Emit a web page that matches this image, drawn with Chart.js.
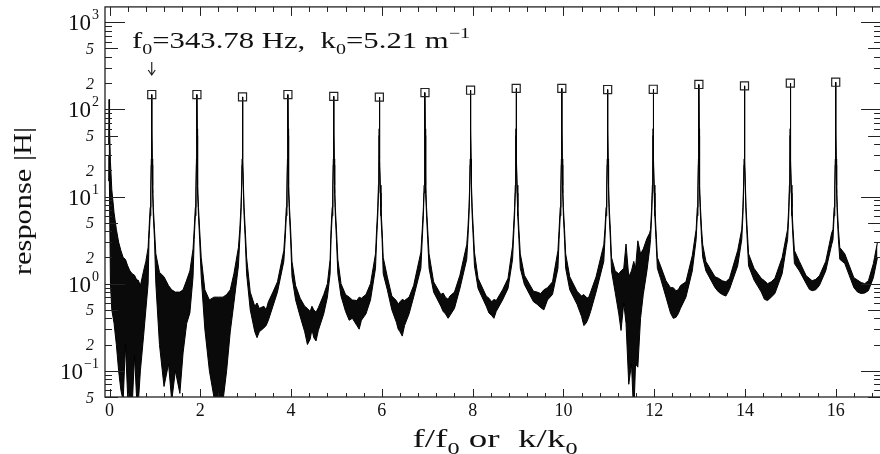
<!DOCTYPE html>
<html>
<head>
<meta charset="utf-8">
<script src="https://cdn.jsdelivr.net/npm/chart.js@4.4.1/dist/chart.umd.min.js"></script>
<style>
html, body { margin: 0; padding: 0; background: #fff; overflow: hidden; width: 880px; height: 454px; }
#wrap { width: 888px; height: 454px; }
</style>
</head>
<body>
<div id="wrap"><canvas id="respChart" width="888" height="454"></canvas></div>
<script>
// noisy band between peaks: x = f/f0, upper and lower edge of the trace
const bandX = [
    -0.02, -0.01, 0.0, 0.02, 0.05, 0.1, 0.15, 0.2, 0.25, 0.3, 0.35, 0.4, 0.45, 0.5, 0.55, 0.6, 0.63, 0.68, 0.75, 0.8, 0.85,
    1.02, 1.1, 1.2, 1.3, 1.37, 1.45, 1.55, 1.62, 1.7, 1.77, 1.84,
    2.02, 2.1, 2.2, 2.3, 2.4, 2.5, 2.58, 2.66, 2.74, 2.84,
    3.02, 3.1, 3.2, 3.25, 3.3, 3.4, 3.45, 3.5, 3.6, 3.7, 3.84,
    4.02, 4.1, 4.2, 4.3, 4.36, 4.42, 4.46, 4.5, 4.55, 4.6, 4.72, 4.8, 4.86,
    5.03, 5.1, 5.2, 5.28, 5.35, 5.45, 5.5, 5.55, 5.65, 5.75, 5.86,
    6.03, 6.12, 6.22, 6.32, 6.36, 6.4, 6.45, 6.5, 6.6, 6.7, 6.86,
    7.04, 7.14, 7.3, 7.35, 7.4, 7.46, 7.5, 7.6, 7.72, 7.87,
    8.04, 8.12, 8.3, 8.36, 8.42, 8.47, 8.52, 8.66, 8.78, 8.88,
    9.05, 9.14, 9.34, 9.42, 9.5, 9.57, 9.65, 9.76, 9.88,
    10.05, 10.14, 10.3, 10.4, 10.45, 10.5, 10.55, 10.6, 10.72, 10.89,
    11.06, 11.14, 11.22, 11.27, 11.33, 11.38, 11.44, 11.5, 11.55, 11.59, 11.64, 11.7, 11.76, 11.84, 11.9,
    12.07, 12.14, 12.26, 12.36, 12.42, 12.48, 12.53, 12.58, 12.7, 12.84,
    13.07, 13.14, 13.34, 13.42, 13.5, 13.58, 13.66, 13.84,
    14.08, 14.2, 14.36, 14.43, 14.5, 14.58, 14.66, 14.82, 14.91,
    15.09, 15.2, 15.35, 15.42, 15.48, 15.56, 15.64, 15.78, 15.91,
    16.09, 16.2, 16.4, 16.48, 16.56, 16.64, 16.72, 16.83, 16.92
];
const bandUpper = [
    40, 130, 60, 25, 12, 6.5, 4.2, 3.0, 2.4, 2.0, 1.9, 1.6, 1.4, 1.3, 1.25, 1.1, 1.1, 0.95, 1.4, 1.8, 2.6,
    2.2, 1.35, 1.2, 0.95, 0.85, 0.8, 0.8, 0.85, 1.1, 1.4, 2.5,
    2.0, 0.85, 0.65, 0.7, 0.7, 0.7, 0.75, 0.85, 1.3, 2.6,
    2.0, 0.8, 0.55, 0.6, 0.52, 0.55, 0.5, 0.62, 0.8, 1.05, 2.4,
    1.8, 0.95, 0.68, 0.55, 0.52, 0.48, 0.55, 0.5, 0.47, 0.53, 0.75, 1.0, 1.9,
    1.9, 1.0, 0.75, 0.7, 0.65, 0.64, 0.7, 0.68, 0.75, 1.0, 2.2,
    2.0, 1.2, 0.72, 0.64, 0.58, 0.62, 0.66, 0.64, 0.7, 0.95, 2.3,
    2.2, 1.05, 0.75, 0.78, 0.7, 0.66, 0.72, 0.8, 1.25, 2.8,
    2.3, 1.15, 0.72, 0.68, 0.62, 0.66, 0.64, 0.85, 1.15, 2.7,
    2.2, 1.25, 0.82, 0.8, 0.77, 0.85, 0.9, 1.05, 2.4,
    2.2, 1.2, 0.82, 0.72, 0.75, 0.7, 0.68, 0.8, 1.2, 2.8,
    2.0, 1.4, 1.3, 1.4, 1.5, 2.85, 1.2, 1.4, 1.8, 1.5, 3.1, 2.2, 2.5, 3.3, 3.8,
    2.0, 1.6, 1.08, 0.9, 0.9, 0.83, 0.85, 0.95, 1.05, 2.1,
    2.8, 1.8, 1.2, 1.15, 1.08, 1.05, 1.15, 2.4,
    2.2, 1.5, 1.15, 1.08, 1.0, 1.05, 1.15, 2.0, 3.5,
    2.4, 1.8, 1.23, 1.15, 1.08, 1.12, 1.23, 1.8, 3.8,
    2.6, 2.2, 1.17, 1.1, 1.03, 1.0, 1.08, 1.7, 3.0
];
const bandLower = [
    15, 30, 10, 1.0, 0.5, 0.35, 0.2, 0.1, 0.06, 0.045, 0.2, 0.05, 0.04, 0.04, 0.15, 0.045, 0.04, 0.1, 0.25, 0.5, 1.0,
    1.0, 0.2, 0.066, 0.12, 0.045, 0.1, 0.055, 0.16, 0.35, 0.46, 1.2,
    1.2, 0.3, 0.1, 0.05, 0.04, 0.045, 0.1, 0.28, 0.6, 1.6,
    1.3, 0.5, 0.28, 0.24, 0.28, 0.31, 0.33, 0.38, 0.55, 0.8, 1.8,
    1.2, 0.65, 0.42, 0.28, 0.2, 0.23, 0.3, 0.24, 0.22, 0.29, 0.45, 0.7, 1.3,
    1.3, 0.72, 0.48, 0.38, 0.4, 0.33, 0.3, 0.38, 0.45, 0.65, 1.5,
    1.3, 0.85, 0.5, 0.36, 0.3, 0.28, 0.25, 0.33, 0.45, 0.7, 1.5,
    1.5, 0.8, 0.55, 0.48, 0.45, 0.4, 0.43, 0.52, 0.88, 1.9,
    1.6, 0.88, 0.55, 0.46, 0.43, 0.4, 0.48, 0.65, 0.88, 1.9,
    1.5, 0.98, 0.62, 0.58, 0.53, 0.5, 0.65, 0.75, 1.5,
    1.5, 0.85, 0.58, 0.42, 0.33, 0.35, 0.4, 0.48, 0.8, 1.8,
    1.4, 0.8, 0.45, 0.29, 0.6, 0.35, 0.07, 0.12, 0.03, 0.12, 0.11, 0.4, 0.75, 1.4, 2.5,
    1.5, 1.15, 0.7, 0.46, 0.4, 0.41, 0.45, 0.52, 0.7, 1.4,
    2.0, 1.4, 0.9, 0.8, 0.75, 0.72, 0.86, 1.6,
    1.6, 1.1, 0.8, 0.66, 0.64, 0.7, 0.77, 1.3, 2.6,
    1.7, 1.4, 1.0, 0.86, 0.83, 0.85, 0.95, 1.4, 2.8,
    1.9, 1.7, 0.9, 0.8, 0.77, 0.78, 0.83, 1.17, 2.0
];

// resonance peaks (square markers)
const peakX = [0.93, 1.925, 2.93, 3.93, 4.94, 5.945, 6.95, 7.955, 8.96, 9.965, 10.975, 11.98, 12.985, 13.99, 15.0, 16.0];
const peakY = [148, 148, 139, 148, 141, 138, 156, 166, 174, 174, 169, 170, 193, 186, 200, 205];

// width of a peak: offset from the peak and the trace edges there
const flankDx = [-0.06, -0.035, -0.02, -0.01, -0.004, 0.004, 0.01, 0.02, 0.035, 0.06];
const flankUpper = [4.2, 7.5, 13.5, 27, 60, 60, 27, 13.5, 7.5, 4.2];
const flankLower = [3.2, 6, 11, 23, 50, 50, 23, 11, 6, 3.2];

const xTickValues = [0, 2, 4, 6, 8, 10, 12, 14, 16];
const xTickLabels = ['0', '2', '4', '6', '8', '10', '12', '14', '16'];
const yDecades = [-1, 0, 1, 2, 3];
const yDecadeLabels = ['\u22121', '0', '1', '2', '3'];

const upperPts = [];
const lowerPts = [];
bandX.forEach((x, i) => {
    upperPts.push({x: x, y: bandUpper[i]});
    lowerPts.push({x: x, y: bandLower[i]});
});
peakX.forEach((p, k) => {
    upperPts.push({x: p, y: peakY[k]});
    lowerPts.push({x: p, y: peakY[k]});
    flankDx.forEach((d, j) => {
        upperPts.push({x: p + d, y: flankUpper[j]});
        lowerPts.push({x: p + d, y: flankLower[j]});
    });
});
upperPts.sort((a, b) => a.x - b.x);
lowerPts.sort((a, b) => a.x - b.x);

const SERIF = '"Liberation Serif", "DejaVu Serif", serif';

// draw text with sub/superscript parts, optionally stretched to a width
function richText(ctx, parts, x, y, size, width, align) {
    const fontOf = mode => (mode ? Math.round(size * 0.66) : size) + 'px ' + SERIF;
    let w = 0;
    parts.forEach(([t, m]) => { ctx.font = fontOf(m); w += ctx.measureText(t).width; });
    const s = width ? width / w : 1;
    ctx.save();
    ctx.translate(x, y);
    ctx.scale(s, 1);
    let cx = align === 'center' ? -w / 2 : align === 'right' ? -w : 0;
    ctx.textAlign = 'left';
    ctx.textBaseline = 'alphabetic';
    parts.forEach(([t, m]) => {
        ctx.font = fontOf(m);
        const dy = m === 1 ? size * 0.28 : m === 2 ? -size * 0.42 : 0;
        ctx.fillText(t, cx, dy);
        cx += ctx.measureText(t).width;
    });
    ctx.restore();
}

const axesPlugin = {
    id: 'axesPlugin',
    afterDraw(chart) {
        const {ctx, chartArea: a} = chart;
        const xs = chart.scales.x;
        const ys = chart.scales.y;
        ctx.save();
        ctx.strokeStyle = '#222';
        ctx.fillStyle = '#111';
        ctx.lineWidth = 1.3;
        ctx.strokeRect(a.left, a.top, a.right - a.left, a.bottom - a.top);

        // x ticks, bottom and top
        ctx.lineWidth = 1;
        ctx.beginPath();
        for (let v = 0; v <= 17; v += 0.4) {
            const px = Math.round(xs.getPixelForValue(v)) + 0.5;
            const major = Math.abs(v / 2 - Math.round(v / 2)) < 0.01;
            const len = major ? 8 : 4;
            ctx.moveTo(px, a.bottom); ctx.lineTo(px, a.bottom - len);
            ctx.moveTo(px, a.top); ctx.lineTo(px, a.top + len + 1);
        }
        // y ticks, left and right
        yDecades.concat([-2]).forEach(d => {
            for (let m = 1; m <= 9; m++) {
                const v = m * Math.pow(10, d);
                if (v < ys.min - 1e-9 || v > ys.max) continue;
                const py = Math.round(ys.getPixelForValue(v)) + 0.5;
                const len = m === 1 ? 20 : m === 5 ? 13 : 7;
                ctx.moveTo(a.left, py); ctx.lineTo(a.left + len, py);
                ctx.moveTo(a.right, py); ctx.lineTo(a.right - len, py);
            }
        });
        ctx.stroke();

        // x tick labels
        xTickValues.forEach((v, i) => {
            richText(ctx, [[xTickLabels[i], 0]], xs.getPixelForValue(v), 416, 18, 0, 'center');
        });
        // y decade labels 10^n
        yDecades.forEach((d, i) => {
            const py = ys.getPixelForValue(Math.pow(10, d));
            ctx.font = '14px ' + SERIF;
            const ew = ctx.measureText(yDecadeLabels[i]).width;
            ctx.fillText(yDecadeLabels[i], 99 - ew, py - 3);
            ctx.font = '23px ' + SERIF;
            const bw = ctx.measureText('10').width;
            ctx.fillText('10', 98 - ew - bw, py + 8);
        });
        // minor labels 2 and 5
        ctx.font = 'italic 16px ' + SERIF;
        ctx.textAlign = 'right';
        [-2, -1, 0, 1, 2].forEach(d => {
            [2, 5].forEach(m => {
                const v = m * Math.pow(10, d);
                if (v < ys.min - 1e-9 || v > ys.max) return;
                ctx.fillText(String(m), 94, ys.getPixelForValue(v) + 5.5);
            });
        });
        ctx.textAlign = 'left';

        // axis titles
        richText(ctx, [['f/f', 0], ['0', 1], [' or  k/k', 0], ['0', 1]], 495, 447, 26, 165, 'center');
        ctx.save();
        ctx.translate(31, 201);
        ctx.rotate(-Math.PI / 2);
        richText(ctx, [['response |H|', 0]], 0, 0, 25, 148, 'center');
        ctx.restore();

        // annotation and arrow
        richText(ctx, [['f', 0], ['0', 1], ['=343.78 Hz,  k', 0], ['0', 1], ['=5.21 m', 0], ['\u22121', 2]],
            132, 48, 23, 338, 'left');
        const ax = xs.getPixelForValue(peakX[0]);
        ctx.lineWidth = 1.2;
        ctx.beginPath();
        ctx.moveTo(ax, 62); ctx.lineTo(ax, 75);
        ctx.moveTo(ax - 3.5, 70); ctx.lineTo(ax, 75); ctx.lineTo(ax + 3.5, 70);
        ctx.stroke();
        ctx.restore();
    }
};

const ctx = document.getElementById('respChart').getContext('2d');
const respChart = new Chart(ctx, {
    type: 'line',
    data: {
        datasets: [
            {
                label: 'peaks',
                data: peakX.map((x, i) => ({x: x, y: peakY[i]})),
                showLine: false,
                pointStyle: 'rect',
                pointRadius: 5.7,
                pointBorderWidth: 1.2,
                pointBorderColor: '#222',
                pointBackgroundColor: 'rgba(0,0,0,0)'
            },
            {
                label: 'upper',
                data: upperPts,
                borderColor: '#000',
                borderWidth: 1,
                pointRadius: 0,
                tension: 0,
                fill: false
            },
            {
                label: 'lower',
                data: lowerPts,
                borderColor: '#000',
                borderWidth: 1,
                pointRadius: 0,
                tension: 0,
                fill: '-1',
                backgroundColor: '#0a0a0a'
            }
        ]
    },
    options: {
        responsive: false,
        animation: false,
        events: [],
        layout: {padding: {left: 0, right: 1, top: 5, bottom: 0}},
        plugins: {legend: {display: false}, tooltip: {enabled: false}},
        scales: {
            x: {
                type: 'linear',
                min: -0.1,
                max: 17,
                grid: {display: false},
                border: {display: false},
                ticks: {display: false},
                afterFit: s => { s.height = 57; }
            },
            y: {
                type: 'logarithmic',
                min: 0.05,
                max: 1500,
                grid: {display: false},
                border: {display: false},
                ticks: {display: false},
                afterFit: s => { s.width = 105; }
            }
        }
    },
    plugins: [axesPlugin]
});
</script>
</body>
</html>
